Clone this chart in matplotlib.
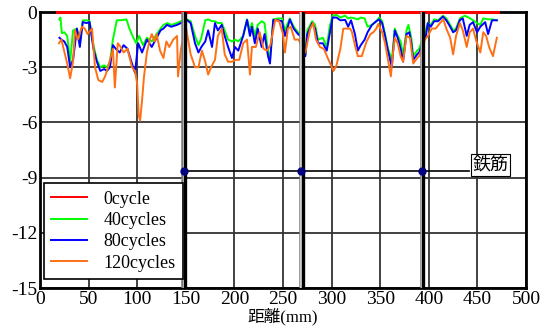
import matplotlib
matplotlib.use("Agg")
import matplotlib.pyplot as plt

plt.rcParams['axes.unicode_minus'] = False
plt.rcParams['font.family'] = ['Liberation Serif', 'Noto Sans CJK JP']

# distance (mm) / value
x_0 = [18, 471]
y_0 = [0, 0]

x_40 = [20, 21, 22.5, 25, 28, 31, 34, 38, 41, 44, 48, 51, 55, 58.5, 62, 66, 69, 72, 75, 79, 83, 89, 92, 96,
        99, 102, 106, 110, 115, 120, 124, 127, 131, 135, 141, 145,
        151, 155, 159.5, 163, 166, 170, 173, 177, 180, 183, 187, 190, 193.5, 197.5, 200.6, 204, 209, 213, 216,
        218, 221, 224, 228, 231, 234.6, 236.6, 240, 245, 249, 252, 255, 257, 261, 265.4, 268,
        273, 275, 280, 283, 286, 291, 295, 298, 301, 305, 309, 314, 317, 320, 324, 327, 330, 334, 337, 341.5,
        346, 349, 352, 355, 358, 362, 365, 368, 371, 373.5, 377, 379, 382, 384, 388, 390,
        397, 399, 402, 405.5, 409.5, 414.6, 418, 422, 425, 428, 432, 437, 441, 445.5, 449.6, 453, 456, 461,
        465, 470]
y_40 = [-0.4, -0.3, -1.15, -1.1, -1.3, -2.7, -1.0, -0.9, -1.7, -0.45, -0.45, -0.5, -1.8, -2.6, -3.0, -2.9,
        -3.0, -2.7, -1.5, -0.45, -0.45, -0.4, -0.9, -1.4, -1.7, -1.3, -1.8, -1.4, -1.6, -1.2, -0.9, -0.7,
        -0.6, -0.7, -0.6, -0.5,
        -0.4, -0.5, -1.3, -1.8, -1.4, -0.45, -0.4, -0.5, -0.5, -0.6, -0.6, -1.0, -1.5, -1.6, -1.5, -1.6,
        -1.3, -0.4, -1.0, -0.6, -1.3, -0.7, -0.5, -0.6, -2.2, -2.5, -0.4, -0.35, -0.35, -1.0, -0.6, -0.35,
        -0.8, -1.1, -1.2,
        -2.3, -1.0, -0.5, -0.7, -1.5, -1.4, -1.9, -0.8, -0.2, -0.15, -0.3, -0.2, -0.35, -0.3, -0.35, -0.4,
        -0.3, -0.35, -0.8, -0.7, -0.5, -0.3, -0.5, -1.2, -2.0, -2.6, -0.9, -1.3, -1.6, -2.4, -1.0, -0.7,
        -1.4, -2.4, -2.1, -2.0,
        -1.0, -0.6, -0.7, -0.4, -0.45, -0.2, -0.35, -0.7, -1.0, -0.9, -0.35, -0.2, -0.3, -0.45, -0.6, -0.7,
        -0.35, -0.4, -0.4, -0.45]

x_80 = [20, 22, 25, 28, 31, 34, 38, 41, 44, 48, 51, 55, 58.5, 62, 66, 69, 72, 75, 78, 82, 86, 90, 94.6,
        97.7, 101, 105, 110, 115, 120, 124, 127, 130.6, 135, 141, 145,
        151, 155, 159.5, 163, 166, 170, 173, 177, 180, 183, 187, 190, 193.5, 197.5, 200.6, 204, 209, 213, 216,
        218, 221, 224, 228, 231, 234.6, 236.6, 240, 245, 249, 252, 255, 257, 261, 265.4, 268,
        273, 275, 280, 283, 286, 291, 295, 298, 301, 305, 309, 314, 317, 320, 324, 327, 330, 334, 337, 341.5,
        346, 349, 352, 355, 358, 362, 365, 368, 371, 373.5, 377, 380, 382, 384, 388, 390,
        397, 399, 402, 405.5, 409.5, 414.6, 418, 422, 425, 428, 432, 435, 439, 442, 445.5, 449.6, 453, 458,
        461, 465, 470]
y_80 = [-1.4, -1.5, -1.6, -1.9, -3.0, -2.6, -0.9, -1.9, -0.55, -0.6, -0.55, -2.0, -2.7, -3.2, -3.1, -3.2,
        -3.0, -1.8, -2.0, -2.2, -1.8, -2.0, -2.8, -3.3, -1.7, -2.2, -1.5, -1.9, -1.4, -1.0, -0.9, -0.7, -0.8,
        -0.7, -0.6,
        -0.43, -0.6, -1.7, -2.2, -1.9, -1.6, -1.0, -1.9, -0.6, -1.0, -0.7, -1.3, -1.9, -2.5, -1.9, -2.1, -1.3,
        -0.43, -1.3, -0.8, -1.7, -0.9, -1.9, -1.2, -2.4, -2.8, -0.43, -0.45, -0.5, -1.3, -0.8, -0.4, -0.9,
        -1.2, -1.3,
        -2.4, -1.2, -0.6, -0.9, -1.7, -1.7, -2.1, -1.2, -0.3, -0.3, -0.45, -0.43, -0.8, -0.45, -1.2, -2.1,
        -1.8, -1.5, -1.1, -0.7, -0.5, -0.4, -0.6, -1.3, -2.1, -3.0, -1.0, -1.4, -2.0, -2.7, -1.2, -1.1, -1.7,
        -2.6, -2.3, -2.2,
        -1.3, -0.6, -0.8, -0.5, -0.5, -0.25, -0.45, -0.8, -1.1, -1.0, -0.43, -0.35, -1.3, -0.7, -0.55, -1.1,
        -0.8, -0.55, -1.2, -0.45, -0.45]

x_120 = [19.5, 22, 25.7, 28, 31, 34, 36, 39, 43, 46, 49, 53.5, 56.6, 60, 64, 67, 70, 73, 75, 77, 80, 83, 86,
         90, 94.6, 97.7, 100, 101.5, 103, 105, 107, 110, 113, 115, 118, 120, 123.5, 127, 130, 133, 137, 141,
         142, 145,
         150, 152, 155, 159.5, 163, 166.6, 170, 173, 176, 180, 183, 187, 190, 193.5, 197.5, 201, 205, 209,
         213, 216, 218, 222, 226, 230, 233.5, 237, 242, 246, 250, 252, 255, 258, 262, 266, 268,
         273, 278, 281, 284, 288, 292, 296, 302, 305, 309, 312, 316, 319, 321, 324, 327, 331, 336, 340, 343,
         346, 348, 352, 355, 358, 361, 363, 365, 368, 371, 373.5, 377, 380.6, 384, 388, 390,
         396, 399, 403, 407, 411.5, 415, 418, 422, 425, 428, 432, 435, 439, 442, 445.5, 449, 453, 456, 459,
         462, 466, 470]
y_120 = [-1.7, -1.5, -2.3, -2.8, -3.6, -2.7, -1.0, -1.5, -0.8, -0.9, -1.2, -0.9, -3.0, -3.7, -3.8, -3.5,
         -3.0, -2.4, -2.0, -4.1, -1.7, -1.9, -2.2, -2.0, -3.0, -3.2, -3.9, -5.6, -5.9, -4.8, -3.5, -2.2, -1.5,
         -1.2, -1.6, -1.2, -2.1, -2.5, -1.6, -1.9, -1.5, -1.3, -3.5, -2.0,
         -0.8, -1.4, -2.3, -3.0, -3.0, -2.1, -2.7, -3.4, -3.0, -2.6, -1.3, -0.9, -2.3, -2.7, -2.7, -2.6, -2.6,
         -1.7, -1.5, -3.4, -1.9, -1.9, -1.1, -2.0, -2.1, -1.8, -0.43, -0.5, -1.2, -2.2, -0.9, -0.8, -1.5,
         -1.5, -1.7,
         -2.2, -0.9, -0.6, -1.5, -1.9, -2.0, -2.5, -3.2, -2.9, -2.0, -0.9, -0.9, -0.9, -1.1, -1.8, -2.4, -2.4,
         -1.6, -1.2, -1.1, -0.9, -0.65, -1.1, -1.7, -2.6, -3.5, -2.3, -1.4, -1.7, -2.4, -2.7, -1.3, -1.4, -2.8,
         -2.5, -2.4,
         -1.5, -1.3, -0.9, -0.9, -0.6, -0.4, -0.9, -1.4, -2.3, -1.3, -0.6, -1.0, -1.9, -1.1, -0.9, -1.6, -2.2,
         -1.1, -1.3, -1.9, -2.4, -1.4]

rebar_x = [148, 269, 393]
rebar_y = -8.65
rebar_label = '鉄筋'
x_ticks = [0, 50, 100, 150, 200, 250, 300, 350, 400, 450, 500]
y_ticks = [0, -3, -6, -9, -12, -15]

fig = plt.figure(figsize=(5.42, 3.31), dpi=100)
ax = fig.add_axes([0.0738, 0.1299, 0.8967, 0.8338])

ax.plot(x_0, y_0, color='#ff0000', lw=2.2, label='0cycle', clip_on=False, zorder=6)
ax.plot(x_40, y_40, color='#00ff00', lw=1.4, label='40cycles', zorder=3)
ax.plot(x_80, y_80, color='#0000ff', lw=1.4, label='80cycles', zorder=4)
ax.plot(x_120, y_120, color='#ff7014', lw=1.4, label='120cycles', zorder=5)

# rebars
for rx in rebar_x:
    ax.axvline(rx - 1.4, color='#7a7a7a', lw=1.8, zorder=7)
    ax.axvline(rx, color='#e0e0e0', lw=1.2, zorder=7)
    ax.axvline(rx + 1.4, color='black', lw=2.4, zorder=7)
ax.plot([rebar_x[0], 441], [rebar_y, rebar_y], color='black', lw=1.2, zorder=6)
ax.plot(rebar_x, [rebar_y] * len(rebar_x), 'o', color='#000080', ms=5, zorder=8)
ax.text(463.5, -8.3, rebar_label, ha='center', va='center', fontsize=13,
        family=['Noto Sans CJK JP'], zorder=9,
        bbox=dict(boxstyle='square,pad=0.1', fc='white', ec='black', lw=0.8))

ax.set_xlim(0, 500)
ax.set_ylim(-15, 0)
ax.set_xticks(x_ticks)
ax.set_yticks(y_ticks)
ax.tick_params(length=0, labelsize=14, pad=2)
ax.grid(True, color='#333333', lw=1.3)
ax.set_axisbelow(True)
for s in ax.spines.values():
    s.set_linewidth(2)
    s.set_color('black')

ax.set_xlabel('距離(mm)', fontsize=12, labelpad=0)

leg = ax.legend(loc='lower left', bbox_to_anchor=(0.008, 0.033), fontsize=13, frameon=True,
                fancybox=False, framealpha=1, edgecolor='black', borderaxespad=0,
                handlelength=2.0, handletextpad=0.9, labelspacing=0.24, borderpad=0.4)
leg.get_frame().set_linewidth(1.2)
for h in leg.get_lines():
    h.set_linewidth(1.4)
leg.set_zorder(10)

fig.savefig('out.png', dpi=100)
